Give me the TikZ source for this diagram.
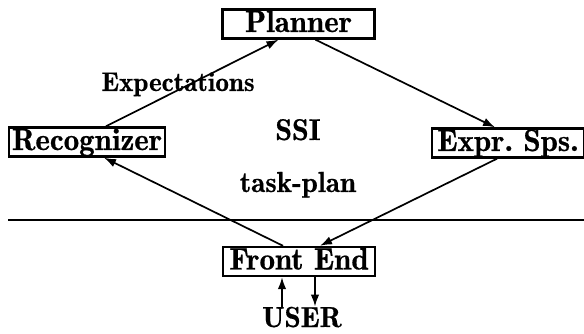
\documentclass[tikz,border=0pt]{standalone}
\usepackage{fontspec}
\newfontfamily\demifont{lmromandemi10-regular}[Extension=.otf,FakeBold=0.6]
\usetikzlibrary{arrows.meta}
\begin{document}
\begin{tikzpicture}[x=1pt,y=-1pt,
    every node/.style={font=\demifont\fontsize{28}{30}\selectfont},
    module/.style={draw,line width=2.4pt,minimum width=152pt,
      font=\demifont\fontsize{31}{33}\selectfont,
      text height=21pt,text depth=5pt,inner ysep=1.5pt,inner xsep=3pt},
    flow/.style={line width=1.7pt,-{Latex[length=12pt,width=8.5pt]}},
    label/.style={anchor=base,inner sep=0pt}]
  \useasboundingbox (0,0) rectangle (584,334);

  % modules of the system
  \node[module] (plan) at (298.5,24)  {Planner};
  \node[module] (rec)  at (87,142)    {Recognizer};
  \node[module] (expr) at (508,143)   {Expr.~Sps.};
  \node[module] (fe)   at (299,261.5) {Front End};

  % free labels
  \node[label,font=\demifont\fontsize{27}{29}\selectfont] (exp) at (178,91) {Expectations};
  \node[label,font=\demifont\fontsize{30}{32}\selectfont] (ssi) at (298,140) {SSI};
  \node[label,font=\demifont\fontsize{29}{31}\selectfont] (tp)  at (298,192) {task-plan};
  \node[label,font=\demifont\fontsize{29}{31}\selectfont] (user) at (302,327) {USER};

  % system boundary
  \coordinate (bl) at (8,220);
  \coordinate (br) at (584,220);
  \draw[line width=1.7pt] (bl) -- (br);

  % cycle of connectors
  \draw[flow] ([xshift=19pt]rec.north) -- ([xshift=-20pt]plan.south);
  \draw[flow] ([xshift=17pt]plan.south) -- ([xshift=-13pt]expr.north);
  \draw[flow] ([xshift=-11pt]expr.south) -- ([xshift=21pt]fe.north);
  \draw[flow] ([xshift=-16pt]fe.north) -- ([xshift=17pt]rec.south);

  % user interaction
  \draw[flow] ([xshift=-17pt]fe.south |- user.north) -- ([xshift=-17pt]fe.south);
  \draw[flow] ([xshift=16pt]fe.south) -- ([xshift=16pt]fe.south |- user.north);
\end{tikzpicture}
\end{document}
